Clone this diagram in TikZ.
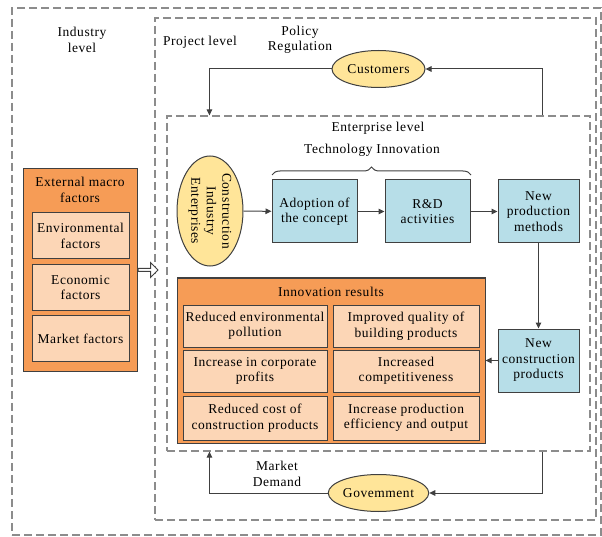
\documentclass[tikz,border=0pt]{standalone}
\usepackage{fontspec}
\setmainfont[LetterSpace=4]{Liberation Serif}
\usetikzlibrary{arrows.meta,shapes.geometric,shapes.arrows,decorations.pathreplacing}
\definecolor{orangefill}{RGB}{246,156,86}
\definecolor{peachfill}{RGB}{252,214,182}
\definecolor{bluefill}{RGB}{183,222,232}
\definecolor{yellowfill}{RGB}{255,229,153}
\definecolor{edgegray}{RGB}{64,64,64}
\definecolor{dashgray}{RGB}{140,140,140}
\begin{document}
\begin{tikzpicture}[x=1pt, y=-1pt, node distance={113pt}, font=\fontsize{13.5}{15.5}\selectfont,
                              level/.style={draw=dashgray, dash pattern=on 8pt off 4pt, line width=1.1pt, inner sep=0pt},
                              bluebox/.style={shape=rectangle, draw=edgegray, fill=bluefill, line width=1pt, align=center, minimum width=85pt, minimum height=63pt, inner sep=1pt},
                              peachbox/.style={shape=rectangle, draw=edgegray, fill=peachfill, line width=1pt, align=center, inner sep=1pt},
                              orangebox/.style={shape=rectangle, draw=edgegray, fill=orangefill, line width=1pt},
                              actor/.style={shape=ellipse, draw=edgegray, fill=yellowfill, line width=1pt, inner sep=0pt, align=center},
                              arr/.style={-{Triangle[length=6pt,width=5.5pt]}, line width=1pt, draw=edgegray}]
        \useasboundingbox (0,0) rectangle (602,537);
        \node[level, minimum width=589pt, minimum height=527pt] (ind) at (306.5,271.5) {};
        \node[level, minimum width=441pt, minimum height=502pt] (proj) at (375.5,269) {};
        \node[level, minimum width=423pt, minimum height=335pt] (ent) at (378.5,283.5) {};
        \node[align=center] (indlab) at (82,40) {Industry\\level};
        \node (projlab) at (200,42) {Project level};
        \node[align=center] (pollab) at (300,40) {Policy\\Regulation};
        \node (entlab) at (378,128) {Enterprise level};
        \node (techlab) at (372,150) {Technology Innovation};
        \node[align=center] (mktlab) at (277,474) {Market\\Demand};
        \node[actor, minimum width=93pt, minimum height=37pt] (cust) at (378.5,69) {Customers};
        \node[actor, minimum width=93pt, minimum height=37pt] (gov) at (378.5,493) {Govemment};
        \node[actor, rotate=-90, minimum width=110pt, minimum height=66pt] (cie) at (210,211) {Construction\\Industry\\Enterprises};
        \node[bluebox] (adopt) at (314.5,211.5) {Adoption of\\the concept};
        \node[bluebox] (rd) [right of=adopt] {R\&D\\activities};
        \node[bluebox, minimum width=81pt] (npm) at (538.5,211.5) {New\\production\\methods};
        \node[bluebox, minimum width=81pt] (ncp) at (538.5,360.5) {New\\construction\\products};
        \node[orangebox, minimum width=114pt, minimum height=202pt] (ext) at (80,270) {};
        \node[align=center] (extlab) at (80,190) {External macro\\factors};
        \node[peachbox, minimum width=97pt, minimum height=46pt] (env) at (80.5,236) {Environmental\\factors};
        \node[peachbox, minimum width=97pt, minimum height=46pt] (eco) at (80.5,287.5) {Economic\\factors};
        \node[peachbox, minimum width=97pt, minimum height=46pt] (mkt) at (80.5,338.5) {Market factors};
        \node[orangebox, minimum width=308pt, minimum height=165pt] (res) at (331,360.5) {};
        \node (reslab) at (331,292) {Innovation results};
        \node[peachbox, minimum width=144pt, minimum height=42pt] (r1) at (255,326) {Reduced environmental\\pollution};
        \node[peachbox, minimum width=146pt, minimum height=42pt] (r2) at (406,326) {Improved quality of\\building products};
        \node[peachbox, minimum width=144pt, minimum height=42pt] (r3) at (255,371) {Increase in corporate\\profits};
        \node[peachbox, minimum width=146pt, minimum height=42pt] (r4) at (406,371) {Increased\\competitiveness};
        \node[peachbox, minimum width=144pt, minimum height=44pt] (r5) at (255,418) {Reduced cost of\\construction products};
        \node[peachbox, minimum width=146pt, minimum height=44pt] (r6) at (406,418) {Increase production\\efficiency and output};
        \node[shape=single arrow, draw=edgegray, fill=white, line width=1pt, minimum height=20pt, minimum width=15pt, single arrow head extend=2pt, inner sep=0pt, anchor=tail] (push) at (ext.east) {};
        \draw[decorate, decoration={brace, amplitude=8pt}, draw=edgegray, line width=1pt] (272,175) -- (471,175);
        \draw[arr] (cie) -- (adopt);
        \draw[arr] (adopt) -- (rd);
        \draw[arr] (rd) -- (npm);
        \draw[arr] (npm) -- (ncp);
        \draw[arr] (ncp) -- (res);
        \draw[arr] ([xshift=-48pt]ent.north east) |- (cust);
        \draw[arr] (cust) -| ([xshift=43pt]ent.north west);
        \draw[arr] ([xshift=-48pt]ent.south east) |- (gov);
        \draw[arr] (gov) -| ([xshift=43pt]ent.south west);
    \end{tikzpicture}
\end{document}
